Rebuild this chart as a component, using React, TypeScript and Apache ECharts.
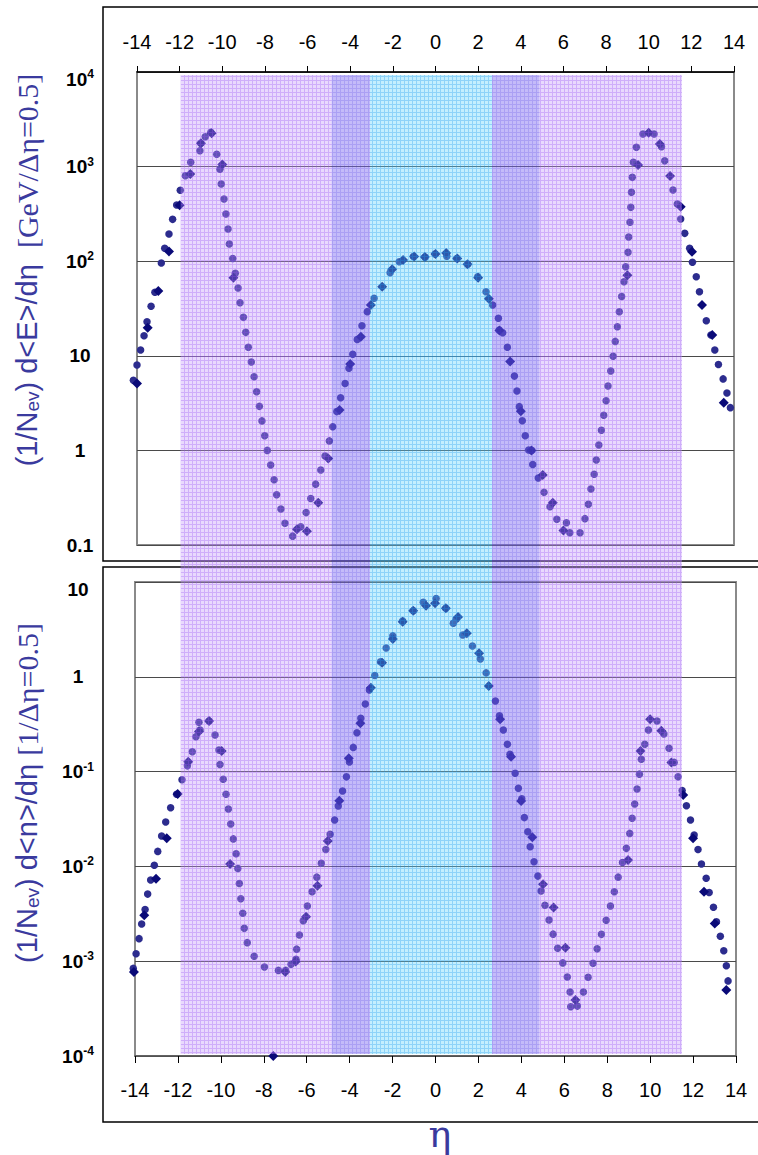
import React, { useEffect, useRef } from "react";
import * as echarts from "echarts";

// ---------- axes ----------
const ETA_MIN = -14;
const ETA_MAX = 14;
const ETA_STEP = 2;

const E_MIN = 0.1;
const E_MAX = 10000;
const N_MIN = 0.0001;
const N_MAX = 10;

// tick labels keyed by decade exponent ("^" marks a superscript)
const E_TICK_LABELS: Record<string, string> = {
  "-1": "0.1",
  "0": "1",
  "1": "10",
  "2": "10^2",
  "3": "10^3",
  "4": "10^4",
};
const N_TICK_LABELS: Record<string, string> = {
  "-4": "10^-4",
  "-3": "10^-3",
  "-2": "10^-2",
  "-1": "10^-1",
  "0": "1",
  "1": "10",
};

// acceptance bands (eta edges) and their tints: [base rgba, grid-line rgba]
const BAND_EDGES = [-11.95, -4.87, -3.07, 2.65, 4.88, 11.56];
const BAND_TINTS: [string, string][] = [
  ["rgba(195,150,250,0.36)", "rgba(170,110,246,0.56)"],
  ["rgba(125,105,242,0.45)", "rgba(105,85,235,0.56)"],
  ["rgba(100,212,252,0.38)", "rgba(60,180,245,0.58)"],
  ["rgba(125,105,242,0.45)", "rgba(105,85,235,0.56)"],
  ["rgba(195,150,250,0.36)", "rgba(170,110,246,0.56)"],
];

// ---------- data: energy flow (1/Nev) d<E>/deta ----------
const E_CIRCLES: [number, number][] = [
  [-14.17, 5.5], [-14.0, 8.0], [-13.83, 11.5], [-13.67, 16.3], [-13.53, 22.9], [-13.34, 33.4],
  [-13.16, 46.9], [-12.86, 95.7], [-12.7, 137], [-12.5, 194], [-12.33, 277], [-12.14, 393],
  [-11.97, 562], [-11.73, 802], [-11.48, 1110], [-11.05, 1470], [-11.01, 1760], [-10.8, 2070],
  [-10.54, 2300], [-10.26, 1350], [-10.11, 936], [-10.05, 655], [-9.92, 454], [-9.83, 315],
  [-9.73, 219], [-9.67, 152], [-9.51, 107], [-9.39, 74.5], [-9.26, 52], [-9.17, 36.4],
  [-9.01, 25.5], [-8.9, 17.7], [-8.78, 12.3], [-8.64, 8.6], [-8.51, 6.0], [-8.39, 4.17],
  [-8.26, 2.92], [-8.14, 2.05], [-8.01, 1.43], [-7.89, 1.0], [-7.73, 0.7], [-7.57, 0.49],
  [-7.45, 0.34], [-7.25, 0.24], [-7.06, 0.17], [-6.7, 0.124], [-6.32, 0.156], [-6.07, 0.22],
  [-5.85, 0.31], [-5.62, 0.44], [-5.38, 0.62], [-5.18, 0.87], [-4.98, 1.26], [-4.82, 1.78],
  [-4.63, 2.57], [-4.45, 3.6], [-4.24, 5.1], [-4.06, 7.4], [-3.88, 10.4], [-3.67, 14.9],
  [-3.45, 20.8], [-3.2, 29.3], [-2.88, 40.5], [-2.13, 75.5], [-1.7, 98.8], [-1.04, 112],
  [-0.49, 110], [-0.02, 119], [0.53, 113], [1.0, 107], [1.51, 92.7], [1.98, 68.6],
  [2.37, 47.6], [2.68, 34.4], [2.95, 24.9], [2.99, 18.7], [3.15, 17.5], [3.37, 12.3],
  [3.7, 6.1], [3.82, 4.25], [3.93, 2.9], [4.07, 2.06], [4.21, 1.43], [4.37, 1.01],
  [4.51, 1.0], [4.56, 0.71], [4.82, 0.51], [5.09, 0.36], [5.37, 0.254], [5.69, 0.187],
  [6.14, 0.172], [6.3, 0.135], [6.78, 0.135], [7.01, 0.19], [7.17, 0.27], [7.29, 0.39],
  [7.44, 0.56], [7.54, 0.79], [7.66, 1.14], [7.78, 1.63], [7.89, 2.35], [8.0, 3.35],
  [8.09, 4.8], [8.22, 6.9], [8.33, 9.9], [8.43, 14.2], [8.53, 20.3], [8.62, 29.2],
  [8.73, 42.4], [8.84, 60.7], [8.92, 87.5], [9.03, 124], [9.06, 180], [9.12, 258],
  [9.16, 371], [9.19, 535], [9.23, 770], [9.28, 1110], [9.42, 1600], [9.73, 2210],
  [10.25, 2210], [10.6, 1620], [10.75, 1150], [11.14, 566], [11.34, 402], [11.5, 279],
  [11.69, 197], [11.92, 137], [12.05, 97.3], [12.23, 68.6], [12.38, 47.6], [12.7, 23.5],
  [12.92, 16.6], [13.1, 11.5], [13.27, 8.1], [13.49, 5.7], [13.67, 4.05], [13.83, 2.83],
];

const E_DIAMONDS: [number, number][] = [
  [-14.0, 5.1], [-13.5, 19.8], [-13.0, 48.4], [-12.5, 127], [-12.0, 390], [-11.5, 836],
  [-11.0, 1760], [-10.5, 2250], [-10.0, 1050], [-9.48, 67], [-6.5, 0.147], [-6.03, 0.14],
  [-5.5, 0.28], [-5.03, 0.82], [-4.5, 2.67], [-4.0, 8.2], [-3.5, 15.9], [-3.03, 34.4],
  [-2.5, 53.8], [-2.03, 82], [-1.52, 103], [-1.0, 112], [-0.5, 111], [0.0, 119],
  [0.5, 122], [1.02, 107], [1.5, 93], [2.0, 67], [2.5, 40], [3.0, 18.5], [3.5, 8.7],
  [4.0, 2.6], [4.5, 1.0], [5.03, 0.55], [5.5, 0.28], [6.0, 0.142], [9.0, 71], [9.5, 1040],
  [10.0, 2280], [10.52, 1730], [11.0, 796], [11.5, 377], [12.03, 126], [12.5, 34.4],
  [12.98, 16.6], [13.52, 3.19],
];

// ---------- data: multiplicity (1/Nev) d<n>/deta ----------
const N_CIRCLES: [number, number][] = [
  [-14.08, 8.4e-4], [-13.95, 1.2e-3], [-13.81, 1.73e-3], [-13.69, 2.47e-3], [-13.53, 3.5e-3],
  [-13.41, 5.1e-3], [-13.27, 7.2e-3], [-13.1, 1.03e-2], [-12.94, 1.44e-2], [-12.76, 2.09e-2],
  [-12.57, 2.94e-2], [-12.34, 4.16e-2], [-12.06, 5.77e-2], [-11.81, 8.2e-2], [-11.56, 0.115],
  [-11.33, 0.162], [-11.16, 0.233], [-10.97, 0.275], [-11.02, 0.331], [-10.55, 0.342],
  [-10.27, 0.243], [-10.09, 0.169], [-10.04, 0.119], [-9.89, 8.3e-2], [-9.76, 5.77e-2],
  [-9.65, 4.03e-2], [-9.54, 2.8e-2], [-9.42, 1.95e-2], [-9.29, 1.36e-2], [-9.21, 9.5e-3],
  [-9.14, 6.6e-3], [-9.07, 4.56e-3], [-8.98, 3.2e-3], [-8.91, 2.22e-3], [-8.77, 1.57e-3],
  [-8.45, 1.13e-3], [-7.97, 8.7e-4], [-7.32, 8.0e-4], [-6.98, 8.0e-4], [-6.73, 9.3e-4],
  [-6.5, 1.05e-3], [-6.47, 1.34e-3], [-6.34, 1.89e-3], [-6.16, 2.67e-3], [-5.97, 3.82e-3],
  [-5.75, 5.4e-3], [-5.53, 7.7e-3], [-5.32, 1.08e-2], [-5.11, 1.51e-2], [-4.91, 2.18e-2],
  [-4.7, 3.08e-2], [-4.53, 4.34e-2], [-4.33, 6.24e-2], [-4.15, 8.8e-2], [-4.01, 0.126],
  [-3.83, 0.18], [-3.66, 0.257], [-3.48, 0.365], [-3.27, 0.516], [-3.08, 0.726],
  [-2.83, 1.03], [-2.56, 1.44], [-2.3, 2.01], [-1.99, 2.7], [-1.53, 3.88], [-1.03, 4.98],
  [-0.57, 6.1], [0.03, 6.7], [0.48, 5.28], [0.83, 3.67], [0.96, 4.04], [1.27, 2.76],
  [1.72, 2.11], [2.09, 1.54], [2.36, 1.1], [2.79, 0.556], [2.98, 0.389], [3.16, 0.275],
  [3.35, 0.194], [3.47, 0.152], [3.71, 0.096], [3.86, 6.67e-2], [4.02, 5.18e-2],
  [4.14, 3.27e-2], [4.3, 2.32e-2], [4.41, 1.61e-2], [4.59, 1.12e-2], [4.77, 7.9e-3],
  [4.92, 5.5e-3], [5.1, 3.9e-3], [5.29, 2.72e-3], [5.48, 1.93e-3], [5.69, 1.37e-3],
  [5.93, 9.6e-4], [6.14, 6.8e-4], [6.27, 4.73e-4], [6.3, 3.31e-4], [6.61, 3.36e-4],
  [6.89, 4.73e-4], [7.11, 6.76e-4], [7.34, 9.5e-4], [7.53, 1.35e-3], [7.73, 1.92e-3],
  [7.95, 2.7e-3], [8.15, 3.82e-3], [8.33, 5.4e-3], [8.51, 7.7e-3], [8.71, 1.1e-2],
  [8.89, 1.55e-2], [9.05, 2.23e-2], [9.16, 3.22e-2], [9.28, 4.55e-2], [9.39, 6.55e-2],
  [9.5, 9.4e-2], [9.59, 0.135], [9.75, 0.194], [9.92, 0.275], [10.32, 0.342], [10.64, 0.249],
  [10.88, 0.176], [11.12, 0.125], [11.3, 8.8e-2], [11.49, 6.3e-2], [11.69, 4.37e-2],
  [11.88, 3.08e-2], [12.05, 2.14e-2], [12.23, 1.51e-2], [12.39, 1.06e-2], [12.61, 7.5e-3],
  [12.75, 5.3e-3], [12.95, 3.7e-3], [13.09, 2.6e-3], [13.27, 1.83e-3], [13.43, 1.29e-3],
  [13.55, 8.97e-4], [13.63, 6.2e-4],
];

const N_DIAMONDS: [number, number][] = [
  [-14.05, 7.7e-4], [-13.57, 3.05e-3], [-13.02, 7.4e-3], [-12.52, 1.98e-2], [-12.01, 5.8e-2],
  [-11.52, 0.127], [-11.02, 0.265], [-10.55, 0.342], [-9.96, 0.165], [-9.57, 1.06e-2],
  [-7.56, 1.0e-4], [-7.0, 7.7e-4], [-6.51, 9.9e-4], [-6.03, 2.95e-3], [-5.5, 6.25e-3],
  [-5.02, 1.85e-2], [-4.48, 4.93e-2], [-4.04, 0.138], [-3.5, 0.323], [-3.01, 0.766],
  [-2.49, 1.41], [-1.99, 2.5], [-1.53, 3.8], [-1.04, 4.98], [-0.44, 5.6], [-0.02, 5.96],
  [0.48, 5.28], [1.05, 4.27], [1.46, 2.88], [2.03, 1.77], [2.48, 0.8], [3.01, 0.356],
  [3.52, 0.143], [3.99, 4.9e-2], [4.51, 2.03e-2], [5.01, 6.5e-3], [5.5, 3.68e-3],
  [6.05, 1.39e-3], [6.52, 3.9e-4], [8.97, 1.17e-2], [9.55, 0.165], [10.0, 0.356],
  [10.52, 0.27], [10.99, 0.125], [11.54, 5.66e-2], [12.0, 1.98e-2], [12.51, 5.4e-3],
  [13.01, 2.5e-3], [13.55, 4.97e-4],
];

// ---------- styling ----------
const SANS = "'Liberation Sans', Arial, sans-serif";
const SERIF = "'Liberation Serif', 'Times New Roman', serif";
const TITLE_COLOR = "#3a3a9e";
const CIRCLE_COLOR = "#2c2c8e";
const DIAMOND_COLOR = "#0a0a78";

const labelRich = {
  b: { fontSize: 19, fontWeight: "bold", fontFamily: SANS, color: "#000", lineHeight: 22 },
  s: { fontSize: 12, fontWeight: "bold", fontFamily: SANS, color: "#000", lineHeight: 12, verticalAlign: "top" },
  sp: { fontSize: 2, lineHeight: 14 },
};

function makeFormatter(labels: Record<string, string>, maxVal: number) {
  return (v: number) => {
    const e = Math.round(Math.log10(v));
    const s = labels[String(e)];
    if (s === undefined) return "";
    const [base, sup] = s.split("^");
    let out = `{b|${base}}` + (sup ? `{s|${sup}}` : "");
    if (Math.abs(v - maxVal) / maxVal < 1e-6) out = `{sp| }\n` + out;
    return out;
  };
}

function xAxis(gridIndex: number, position: "top" | "bottom", margin: number, lineColor: string, tickLen: number) {
  return {
    gridIndex,
    type: "value",
    position,
    min: ETA_MIN,
    max: ETA_MAX,
    interval: ETA_STEP,
    axisLine: { show: true, onZero: false, lineStyle: { color: lineColor, width: 1.5 } },
    axisTick: { show: true, inside: false, length: tickLen, lineStyle: { color: "#000", width: 1 } },
    axisLabel: { margin, fontSize: 20, color: "#000", fontFamily: SANS },
    splitLine: { show: false },
  };
}

function yAxis(gridIndex: number, min: number, max: number, labels: Record<string, string>) {
  return {
    gridIndex,
    type: "log",
    logBase: 10,
    min,
    max,
    axisLine: { show: false },
    axisTick: { show: false },
    splitLine: { show: true, lineStyle: { color: "#4a4a4a", width: 1 } },
    axisLabel: {
      margin: 57,
      align: "center",
      formatter: makeFormatter(labels, max),
      rich: labelRich,
    },
  };
}

function scatter(x: number, data: [number, number][], symbol: string, size: number, color: string) {
  return {
    type: "scatter",
    xAxisIndex: x,
    yAxisIndex: x,
    data,
    symbol,
    symbolSize: size,
    clip: false,
    silent: true,
    itemStyle: { color, opacity: 1 },
  };
}

// small tiled grid texture for the bands
function bandFill(base: string, line: string): any {
  try {
    const c = document.createElement("canvas");
    c.width = 4;
    c.height = 4;
    const ctx = c.getContext("2d");
    if (!ctx) return base;
    ctx.fillStyle = base;
    ctx.fillRect(0, 0, 4, 4);
    ctx.clearRect(0, 0, 4, 1);
    ctx.clearRect(0, 1, 1, 3);
    ctx.fillStyle = line;
    ctx.fillRect(0, 0, 4, 1);
    ctx.fillRect(0, 1, 1, 3);
    return { image: c.toDataURL(), repeat: "repeat", imageWidth: 4, imageHeight: 4 };
  } catch (e) {
    return base;
  }
}

export default function App() {
  const ref = useRef<HTMLDivElement>(null);

  useEffect(() => {
    if (!ref.current) return;
    const chart = echarts.init(ref.current, null, { renderer: "svg" });
    chart.setOption({
      animation: false,
      backgroundColor: "#fff",
      grid: [
        { left: 137, top: 72, width: 597, height: 473, show: true, borderColor: "#8a8a8a", borderWidth: 2 },
        { left: 135, top: 582, width: 601, height: 474, show: true, borderColor: "#8a8a8a", borderWidth: 2 },
      ],
      xAxis: [xAxis(0, "top", 20, "#000", 6), xAxis(1, "bottom", 24, "#555", 7)],
      yAxis: [yAxis(0, E_MIN, E_MAX, E_TICK_LABELS), yAxis(1, N_MIN, N_MAX, N_TICK_LABELS)],
      series: [
        scatter(0, E_CIRCLES, "circle", 7.5, CIRCLE_COLOR),
        scatter(0, E_DIAMONDS, "diamond", 10, DIAMOND_COLOR),
        scatter(1, N_CIRCLES, "circle", 7.5, CIRCLE_COLOR),
        scatter(1, N_DIAMONDS, "diamond", 10, DIAMOND_COLOR),
      ],
    });

    const xs = BAND_EDGES.map((e) => chart.convertToPixel({ xAxisIndex: 0 }, e) as number);
    const bandTop = (chart.convertToPixel({ yAxisIndex: 0 }, E_MAX) as number) + 3;
    const bandBottom = (chart.convertToPixel({ yAxisIndex: 1 }, N_MIN) as number) - 2;

    const bands = BAND_TINTS.map(([base, line], i) => ({
      type: "rect",
      z: 50,
      silent: true,
      shape: { x: xs[i], y: bandTop, width: xs[i + 1] - xs[i], height: bandBottom - bandTop },
      style: { fill: bandFill(base, line) },
    }));

    const titleRich = (main: number) => ({
      a: { fontSize: main, fontFamily: SANS, fill: TITLE_COLOR },
      s: { fontSize: 19, fontFamily: SANS, fill: TITLE_COLOR, verticalAlign: "bottom" },
      t: { fontSize: main + 1, fontFamily: SERIF, fill: TITLE_COLOR },
    });

    chart.setOption({
      graphic: [
        {
          type: "rect",
          z: 10,
          silent: true,
          shape: { x: 103, y: 7, width: 700, height: 554 },
          style: { fill: "none", stroke: "#000", lineWidth: 1.5 },
        },
        {
          type: "rect",
          z: 10,
          silent: true,
          shape: { x: 103, y: 567, width: 700, height: 555 },
          style: { fill: "none", stroke: "#000", lineWidth: 1.5 },
        },
        ...bands,
        {
          type: "text",
          z: 60,
          x: 27,
          y: 270,
          rotation: Math.PI / 2,
          style: {
            text: "{a|(1/N}{s|ev}{a|) d<E>/dη  }{t|[GeV/Δη=0.5]}",
            rich: titleRich(29),
            align: "center",
            verticalAlign: "middle",
          },
        },
        {
          type: "text",
          z: 60,
          x: 27,
          y: 793,
          rotation: Math.PI / 2,
          style: {
            text: "{a|(1/N}{s|ev}{a|) d<n>/dη }{t|[1/Δη=0.5]}",
            rich: titleRich(29),
            align: "center",
            verticalAlign: "middle",
          },
        },
        {
          type: "text",
          z: 60,
          x: 440,
          y: 1134,
          style: {
            text: "η",
            fontSize: 38,
            fontFamily: "'DejaVu Serif', " + SERIF,
            fill: TITLE_COLOR,
            align: "center",
            verticalAlign: "middle",
          },
        },
      ],
    });

    return () => chart.dispose();
  }, []);

  return (
    <div
      ref={ref}
      style={{ position: "absolute", left: 0, top: 0, width: 758, height: 1155 }}
    />
  );
}
